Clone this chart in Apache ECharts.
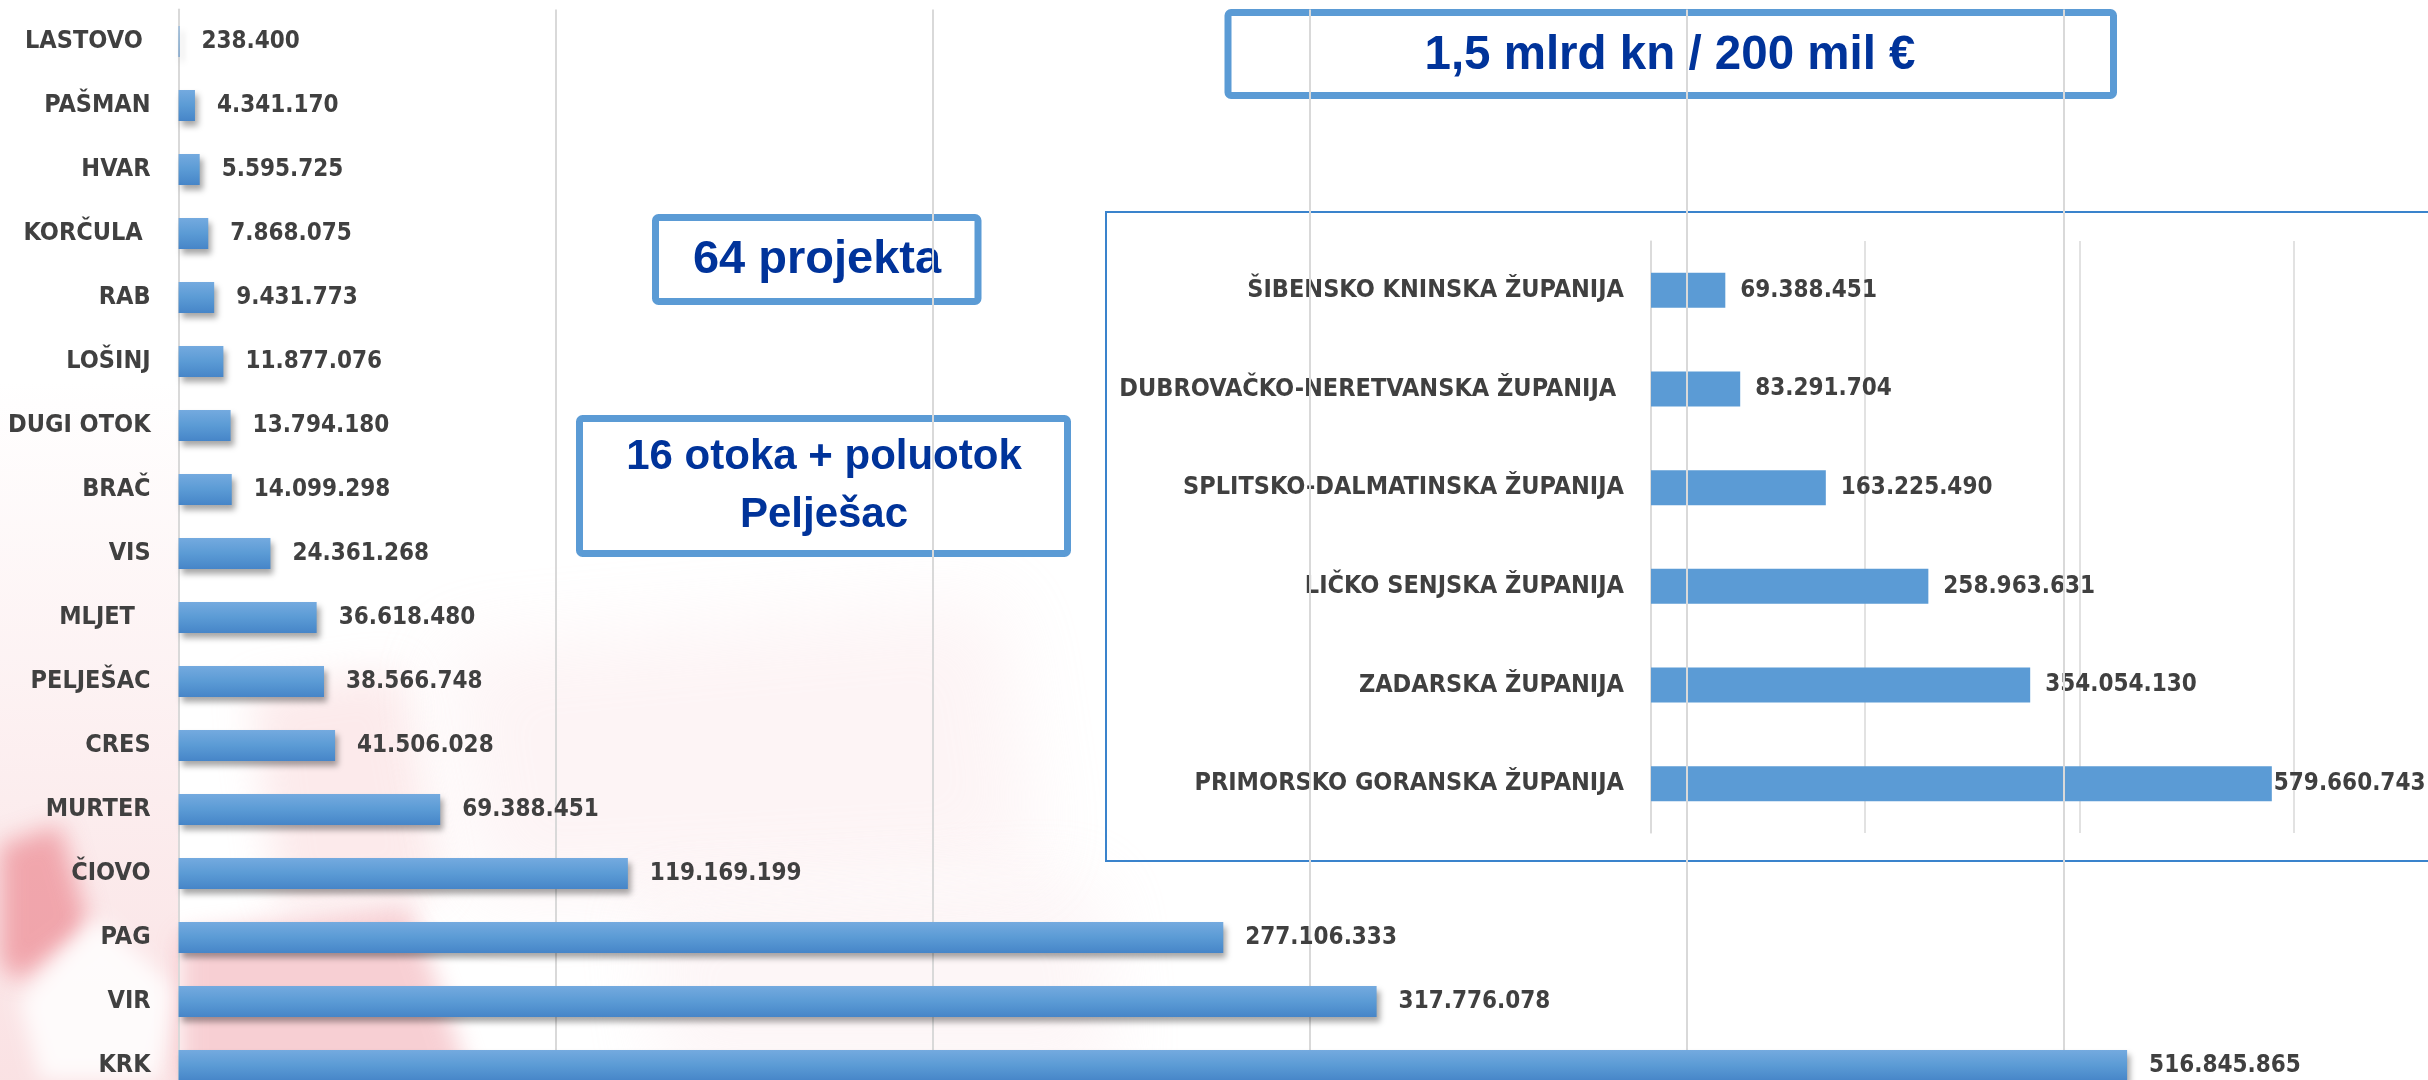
<!DOCTYPE html>
<html>
<head>
<meta charset="utf-8">
<title>Otoci i županije</title>
<script src="https://cdn.jsdelivr.net/npm/echarts@6/dist/echarts.min.js"></script>
<style>
  html, body { margin: 0; padding: 0; background: #fff; }
  #chart { width: 2428px; height: 1080px; }
</style>
</head>
<body>
<div id="chart"></div>
<script>
// podaci - otoci
const otoci = ['LASTOVO ', 'PAŠMAN', 'HVAR', 'KORČULA ', 'RAB', 'LOŠINJ', 'DUGI OTOK', 'BRAČ', 'VIS', 'MLJET  ',
  'PELJEŠAC', 'CRES', 'MURTER', 'ČIOVO', 'PAG', 'VIR', 'KRK']
const iznosiOtoci = [238400, 4341170, 5595725, 7868075, 9431773, 11877076, 13794180, 14099298, 24361268, 36618480,
  38566748, 41506028, 69388451, 119169199, 277106333, 317776078, 516845865]

// podaci - županije
const zupanije = ['ŠIBENSKO KNINSKA ŽUPANIJA', 'DUBROVAČKO-NERETVANSKA ŽUPANIJA ', 'SPLITSKO-DALMATINSKA ŽUPANIJA',
  'LIČKO SENJSKA ŽUPANIJA', 'ZADARSKA ŽUPANIJA', 'PRIMORSKO GORANSKA ŽUPANIJA']
const iznosiZupanije = [69388451, 83291704, 163225490, 258963631, 354054130, 579660743]

// natpisi u okvirima
const naslovUkupno = '1,5 mlrd kn / 200 mil €'
const naslovProjekti = '64 projekta'
const naslovOtoci = ['16 otoka + poluotok', 'Pelješac']

const FONT = '"DejaVu Sans Condensed", "DejaVu Sans", sans-serif'
const BOX_FONT = '"Liberation Sans", Arial, sans-serif'
const SIVA = '#404040'

function tocke (v) {
  return String(v).replace(/\B(?=(\d{3})+(?!\d))/g, '.')
}

function okvir (x, y, w, h, lw) {
  return {
    type: 'rect',
    z: 1,
    shape: { x: x, y: y, width: w, height: h, r: 3 },
    style: { fill: '#fff', stroke: '#5b9bd5', lineWidth: lw }
  }
}

function natpis (text, x, y, size) {
  return {
    type: 'text',
    z: 1,
    x: x,
    y: y,
    style: {
      text: text,
      fill: '#00339a',
      fontSize: size,
      fontWeight: 'bold',
      fontFamily: BOX_FONT,
      align: 'center',
      verticalAlign: 'middle'
    }
  }
}

// mekana mrlja: crta se samo sjena, oblik je izvan platna
function mrlja (points, color, blur) {
  const OFF = 4000
  return {
    type: 'polygon',
    z: 0,
    silent: true,
    shape: { points: points.map(function (p) { return [p[0] - OFF, p[1]] }) },
    style: { fill: '#000', shadowBlur: blur, shadowColor: color, shadowOffsetX: OFF, shadowOffsetY: 0 }
  }
}

const myChart = echarts.init(document.getElementById('chart'))

const zupanijeData = iznosiZupanije.map(function (v, i) {
  const item = { value: v }
  if (i === iznosiZupanije.length - 1) item.label = { distance: 2 }
  return item
})

const option = {
  backgroundColor: '#ffffff',
  animation: false,
  graphic: [
    // blijeda šahovnica u pozadini
    {
      type: 'rect',
      z: 0,
      silent: true,
      shape: { x: 0, y: 380, width: 180, height: 700 },
      style: {
        fill: new echarts.graphic.LinearGradient(0, 0, 0, 1, [
          { offset: 0, color: 'rgba(244,190,194,0)' },
          { offset: 0.6, color: 'rgba(244,190,194,0.28)' },
          { offset: 1, color: 'rgba(244,190,194,0.45)' }
        ])
      }
    },
    mrlja([[0, 845], [60, 825], [90, 930], [20, 980], [0, 965]], 'rgba(232,110,120,0.55)', 25),
    mrlja([[95, 915], [178, 990], [160, 1080], [40, 1080], [20, 1000]], 'rgba(255,255,255,0.85)', 20),
    mrlja([[180, 935], [410, 905], [470, 1080], [180, 1080]], 'rgba(240,160,168,0.5)', 25),
    mrlja([[250, 690], [400, 670], [440, 890], [280, 910]], 'rgba(245,195,199,0.35)', 40),
    mrlja([[440, 650], [1000, 600], [1040, 870], [480, 900]], 'rgba(250,220,222,0.3)', 80),
    mrlja([[640, 900], [1100, 880], [1120, 1080], [660, 1080]], 'rgba(250,225,227,0.3)', 70),
    // okviri s tekstom
    okvir(1228, 12.5, 885.5, 83, 7),
    natpis(naslovUkupno, 1670, 56, 47.5),
    okvir(655.5, 217.5, 322.5, 84, 7),
    natpis(naslovProjekti, 817, 260, 47),
    okvir(579.5, 418.5, 488, 135, 7),
    natpis(naslovOtoci[0], 824, 457, 42),
    natpis(naslovOtoci[1], 824, 515, 42),
    // okvir manjeg grafikona
    {
      type: 'rect',
      z: 1,
      shape: { x: 1106, y: 212, width: 1340, height: 649 },
      style: { fill: 'rgba(255,255,255,0)', stroke: '#3a83cc', lineWidth: 2 }
    }
  ],
  grid: [
    { left: 178.6, top: 9.5, width: 2262, height: 1088, outerBoundsMode: 'none', containLabel: false },
    { left: 1651, top: 241, width: 642.6, height: 592, outerBoundsMode: 'none', containLabel: false }
  ],
  xAxis: [
    {
      gridIndex: 0,
      type: 'value',
      min: 0,
      max: 600000000,
      interval: 100000000,
      z: 4,
      axisLine: { show: false },
      axisTick: { show: false },
      axisLabel: { show: false },
      splitLine: { lineStyle: { color: '#d9d9d9', width: 2 } }
    },
    {
      gridIndex: 1,
      type: 'value',
      min: 0,
      max: 600000000,
      interval: 200000000,
      z: 2,
      axisLine: { show: false },
      axisTick: { show: false },
      axisLabel: { show: false },
      splitLine: { lineStyle: { color: '#d9d9d9', width: 1.5 } }
    }
  ],
  yAxis: [
    {
      gridIndex: 0,
      type: 'category',
      data: otoci,
      inverse: true,
      z: 4,
      axisLine: { show: true, lineStyle: { color: '#d9d9d9', width: 2 } },
      axisTick: { show: false },
      axisLabel: { color: SIVA, fontWeight: 'bold', fontSize: 25, fontFamily: FONT, margin: 28 }
    },
    {
      gridIndex: 1,
      type: 'category',
      data: zupanije,
      inverse: true,
      z: 2,
      axisLine: { show: true, lineStyle: { color: '#d9d9d9', width: 1.5 } },
      axisTick: { show: false },
      axisLabel: { color: SIVA, fontWeight: 'bold', fontSize: 25, fontFamily: FONT, margin: 27 }
    }
  ],
  series: [
    {
      name: 'Otoci',
      type: 'bar',
      xAxisIndex: 0,
      yAxisIndex: 0,
      z: 6,
      barWidth: 31,
      data: iznosiOtoci,
      itemStyle: {
        color: new echarts.graphic.LinearGradient(0, 0, 0, 1, [
          { offset: 0, color: '#74aadf' },
          { offset: 0.5, color: '#5b9bd5' },
          { offset: 1, color: '#4685c8' }
        ]),
        shadowColor: 'rgba(0,0,0,0.35)',
        shadowBlur: 6,
        shadowOffsetX: 3,
        shadowOffsetY: 5
      },
      label: {
        show: true,
        position: 'right',
        distance: 22,
        color: SIVA,
        fontWeight: 'bold',
        fontSize: 24,
        fontFamily: FONT,
        formatter: function (p) { return tocke(p.value) }
      }
    },
    {
      name: 'Županije',
      type: 'bar',
      xAxisIndex: 1,
      yAxisIndex: 1,
      z: 3,
      barWidth: 35,
      data: zupanijeData,
      itemStyle: { color: '#5b9bd5' },
      label: {
        show: true,
        position: 'right',
        distance: 15,
        color: SIVA,
        fontWeight: 'bold',
        fontSize: 24,
        fontFamily: FONT,
        formatter: function (p) { return tocke(p.value) }
      }
    }
  ]
}

myChart.setOption(option)
</script>
</body>
</html>
